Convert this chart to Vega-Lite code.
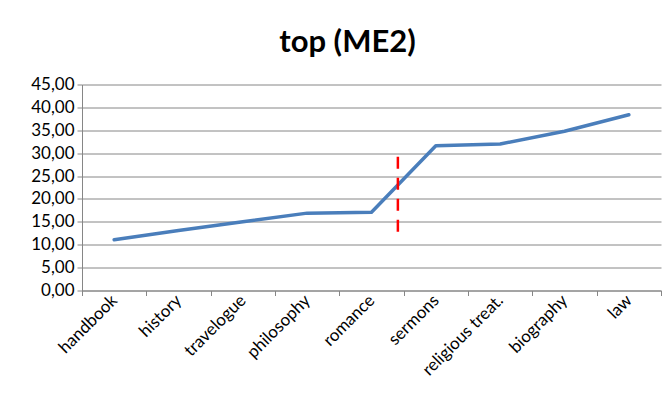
{
  "$schema": "https://vega.github.io/schema/vega-lite/v6.json",
  "width": 579,
  "height": 206,
  "autosize": "none",
  "padding": {"left": 82, "top": 84.5, "right": 10, "bottom": 117.5},
  "background": "white",
  "title": {
    "text": "top (ME2)",
    "font": "Lato",
    "fontSize": 31,
    "fontWeight": "bold",
    "color": "black",
    "anchor": "middle",
    "frame": "group",
    "dx": -24,
    "offset": 17
  },
  "config": {
    "view": {"stroke": null},
    "axis": {
      "labelFont": "Lato",
      "labelFontSize": 17,
      "labelColor": "black",
      "labelOverlap": false,
      "domainColor": "#868686",
      "tickColor": "#868686",
      "gridColor": "#868686",
      "gridOpacity": 1,
      "gridWidth": 1,
      "domainWidth": 1,
      "tickSize": 5,
      "title": null
    }
  },
  "datasets": {
    "series": [
      {"genre": "handbook", "value": 11.1},
      {"genre": "history", "value": 13.1},
      {"genre": "travelogue", "value": 15.0},
      {"genre": "philosophy", "value": 16.9},
      {"genre": "romance", "value": 17.1},
      {"genre": "sermons", "value": 31.6},
      {"genre": "religious treat.", "value": 32.0},
      {"genre": "biography", "value": 34.8},
      {"genre": "law", "value": 38.4}
    ],
    "marker": [
      {"genre": "romance", "top": 29.2, "bottom": 12.7}
    ]
  },
  "layer": [
    {
      "data": {"name": "series"},
      "mark": {"type": "line", "color": "#4A7EBB", "strokeWidth": 3.5, "strokeCap": "round", "strokeJoin": "round"},
      "encoding": {
        "x": {
          "field": "genre",
          "type": "nominal",
          "sort": ["handbook", "history", "travelogue", "philosophy", "romance", "sermons", "religious treat.", "biography", "law"],
          "scale": {"paddingInner": 0, "paddingOuter": 0},
          "axis": {
            "tickBand": "extent",
            "grid": false,
            "labelAngle": -45,
            "labelAlign": "right",
            "labelBaseline": "middle",
            "labelPadding": 2
          }
        },
        "y": {
          "field": "value",
          "type": "quantitative",
          "scale": {"domain": [0, 45], "nice": false},
          "axis": {
            "values": [0, 5, 10, 15, 20, 25, 30, 35, 40, 45],
            "labelExpr": "replace(format(datum.value, '.2f'), '.', ',')",
            "grid": true,
            "labelPadding": 3
          }
        }
      }
    },
    {
      "data": {"name": "marker"},
      "mark": {"type": "rule", "color": "#FF0000", "strokeWidth": 2.5, "strokeDash": [12, 9]},
      "encoding": {
        "x": {
          "field": "genre",
          "type": "nominal",
          "bandPosition": 0.91,
          "sort": ["handbook", "history", "travelogue", "philosophy", "romance", "sermons", "religious treat.", "biography", "law"],
          "axis": {
            "tickBand": "extent",
            "grid": false,
            "labelAngle": -45,
            "labelAlign": "right",
            "labelBaseline": "middle",
            "labelPadding": 2
          }
        },
        "y": {
          "field": "top",
          "type": "quantitative",
          "scale": {"domain": [0, 45], "nice": false},
          "axis": {
            "values": [0, 5, 10, 15, 20, 25, 30, 35, 40, 45],
            "labelExpr": "replace(format(datum.value, '.2f'), '.', ',')",
            "grid": true,
            "labelPadding": 3
          }
        },
        "y2": {"field": "bottom"}
      }
    }
  ]
}
